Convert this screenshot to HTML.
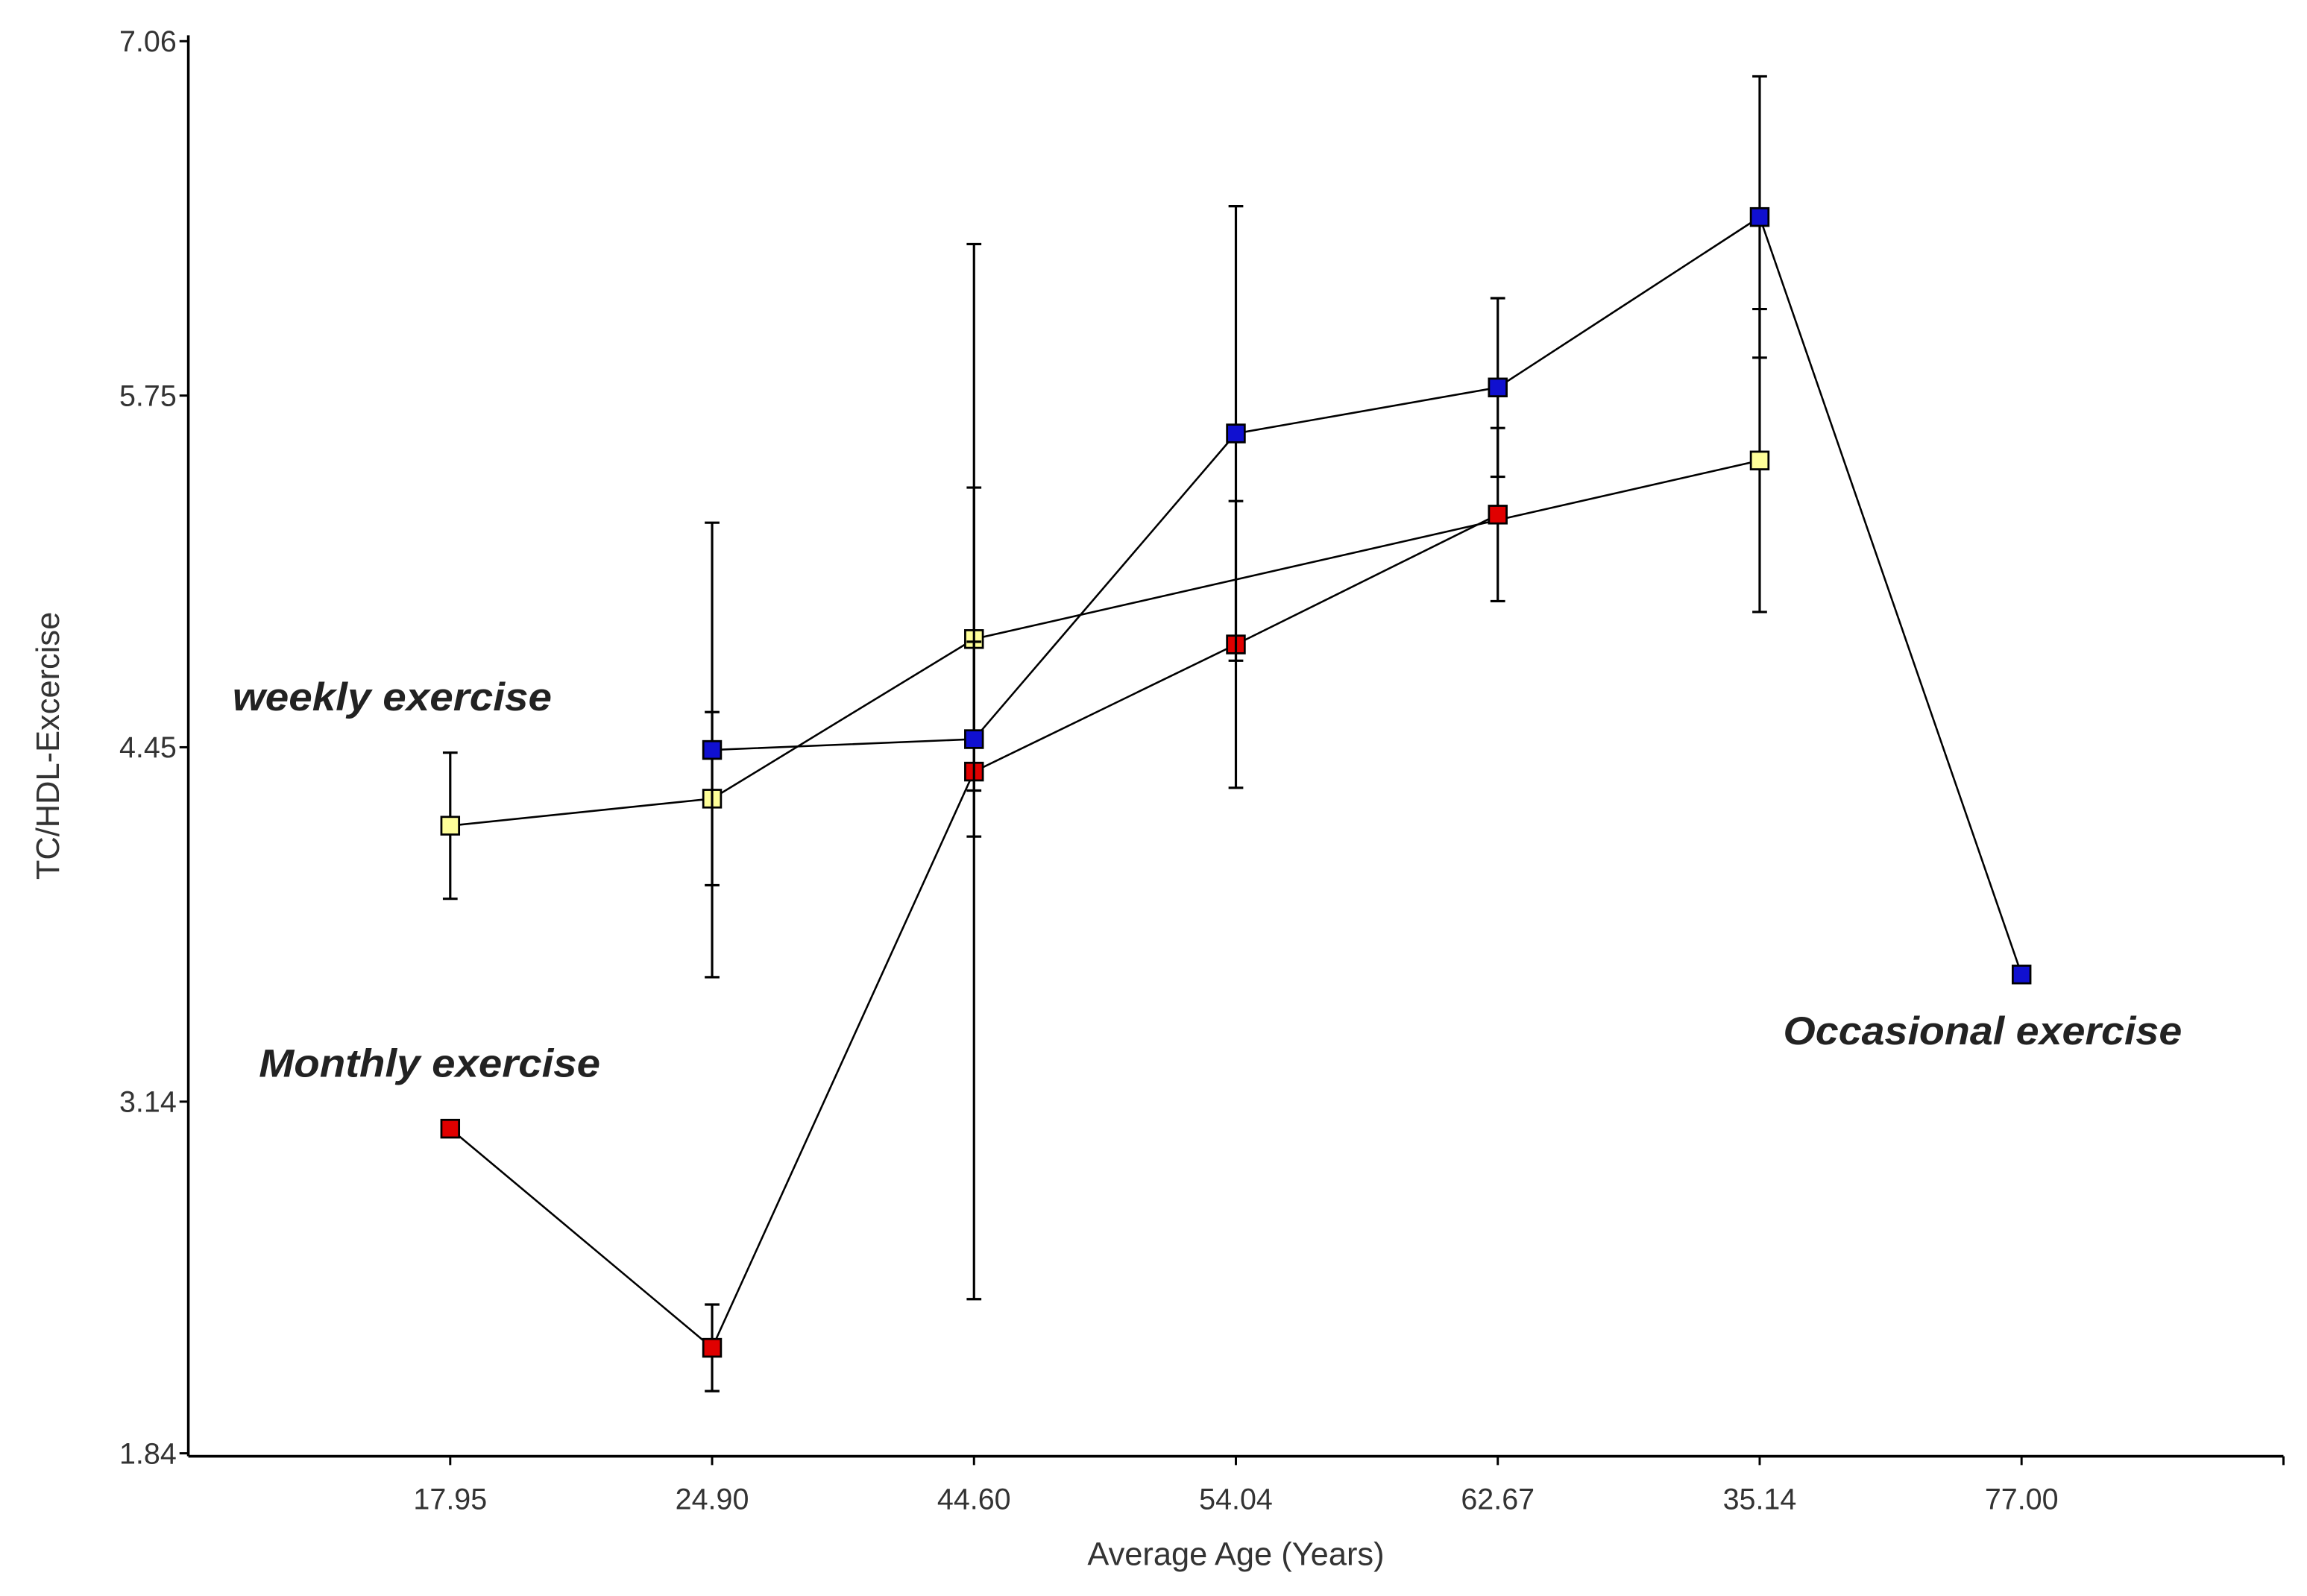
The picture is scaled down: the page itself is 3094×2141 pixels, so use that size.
<!DOCTYPE html>
<html><head><meta charset="utf-8"><style>
html,body{margin:0;padding:0;background:#fff}
svg{display:block}
text{font-family:"Liberation Sans",Arial,sans-serif}
</style></head><body>
<svg id="chart" width="3094" height="2141" viewBox="0 0 1568 1085" preserveAspectRatio="none" xmlns="http://www.w3.org/2000/svg">
<rect width="1568" height="1085" fill="#fff"/>
<g id="axes"></g>
<g id="series"></g>
<text x="158" y="483" font-size="27" font-weight="bold" font-style="italic" fill="#222" textLength="217" lengthAdjust="spacingAndGlyphs">weekly exercise</text>
<text x="176" y="732" font-size="27" font-weight="bold" font-style="italic" fill="#222" textLength="232" lengthAdjust="spacingAndGlyphs">Monthly exercise</text>
<text x="1212" y="710" font-size="27" font-weight="bold" font-style="italic" fill="#222" textLength="271" lengthAdjust="spacingAndGlyphs">Occasional exercise</text>
<text x="840" y="1064" font-size="22" text-anchor="middle" fill="#333">Average Age (Years)</text>
<text transform="translate(40,507) rotate(-90)" font-size="22" text-anchor="middle" fill="#333">TC/HDL-Excercise</text>
</svg>
<script>
const categories = ["17.95","24.90","44.60","54.04","62.67","35.14","77.00"];
const yTicks = [1.84, 3.14, 4.45, 5.75, 7.06];
const yTickLabels = ["1.84","3.14","4.45","5.75","7.06"];
const weeklyIdx = [0,1,2,5];
const weeklyVals = [4.16,4.26,4.85,5.51];
const weeklyErr = [0.27,0.32,0.56,0.56];
const monthlyIdx = [0,1,2,3,4];
const monthlyVals = [3.04,2.23,4.36,4.83,5.31];
const monthlyErr = [0,0.16,1.95,0.53,0.32];
const occIdx = [1,2,3,4,5,6];
const occVals = [4.44,4.48,5.61,5.78,6.41,3.61];
const occErr = [0.84,0.36,0.84,0.33,0.52,0];

const NS="http://www.w3.org/2000/svg";
const X0=128, X1=1552, Y0=988, Y1=28;
const xs = i => X0 + (i+1)*(X1-X0)/8;
const ys = v => Y0 - (v-1.84)/(7.06-1.84)*(Y0-Y1);
function mk(tag,attrs,parent){const e=document.createElementNS(NS,tag);for(const k in attrs)e.setAttribute(k,attrs[k]);parent.appendChild(e);return e;}
const axes=document.getElementById('axes');
let a=mk('line',{x1:X0,y1:Y1-4,x2:X0,y2:Y0+2,stroke:'#000','stroke-width':1.8},axes);


a=mk('line',{x1:X0,y1:Y0+2,x2:X1,y2:Y0+2,stroke:'#000','stroke-width':1.8},axes);


mk('line',{x1:X1,y1:Y0+2,x2:X1,y2:Y0+8,stroke:'#000','stroke-width':1.5},axes);
yTicks.forEach((v,k)=>{
  mk('line',{x1:X0-6,y1:ys(v),x2:X0,y2:ys(v),stroke:'#000','stroke-width':1.5},axes);
  const t=mk('text',{x:X0-8,y:ys(v)+7,'font-size':20,'text-anchor':'end',fill:'#333'},axes);
  t.textContent=yTickLabels[k];
  
  
});
categories.forEach((c,i)=>{
  mk('line',{x1:xs(i),y1:Y0+2,x2:xs(i),y2:Y0+8,stroke:'#000','stroke-width':1.5},axes);
  const t=mk('text',{x:xs(i),y:Y0+38,'font-size':20,'text-anchor':'middle',fill:'#333'},axes);
  t.textContent=c;
  
  
});
const ser=document.getElementById('series');
function drawSeries(name,idx,vals,err,color){
  const g=mk('g',{},ser);
  
  
  idx.forEach((i,k)=>{
    if(err[k]>0){
      const x=xs(i),t=ys(vals[k]+err[k]),b=ys(vals[k]-err[k]);
      const eb=mk('path',{d:`M${x},${t}V${b}M${x-5},${t}H${x+5}M${x-5},${b}H${x+5}`,stroke:'#000','stroke-width':1.6,fill:'none'},g);
      
      
    }
  });
  const pts=idx.map((i,k)=>xs(i)+','+ys(vals[k])).join(' ');
  const pl=mk('polyline',{points:pts,fill:'none',stroke:'#000','stroke-width':1.3},g);
  
  
  idx.forEach((i,k)=>{
    const r=mk('rect',{x:xs(i)-6,y:ys(vals[k])-6,width:12,height:12,fill:color,stroke:'#000','stroke-width':1.4},g);
    
    
  });
}
drawSeries('weekly',weeklyIdx,weeklyVals,weeklyErr,'#ffff99');
drawSeries('monthly',monthlyIdx,monthlyVals,monthlyErr,'#e00000');
drawSeries('occasional',occIdx,occVals,occErr,'#1010d0');
</script>
</body></html>
